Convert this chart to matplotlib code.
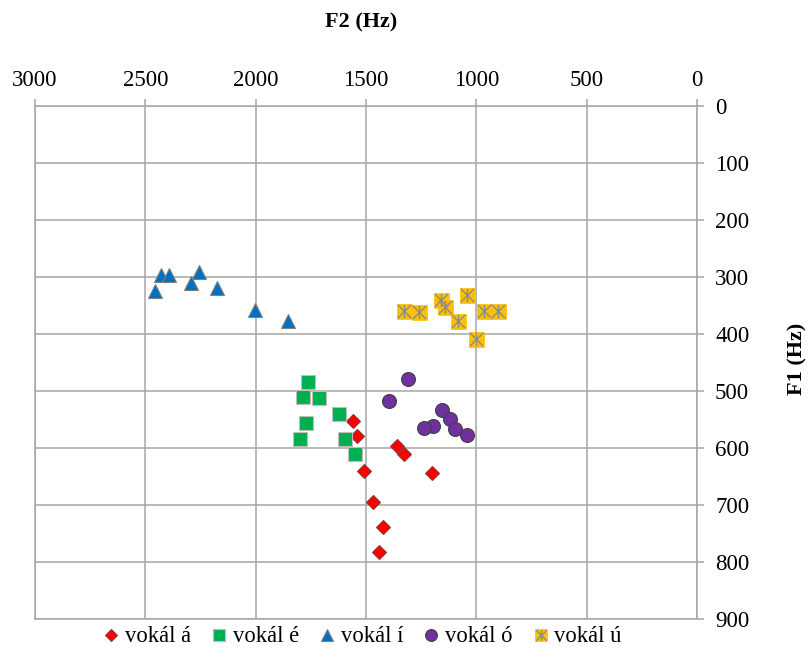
import matplotlib
matplotlib.use("Agg")
import matplotlib.pyplot as plt
from matplotlib.path import Path
from matplotlib.lines import Line2D

plt.rcParams['font.family'] = ['Liberation Serif', 'DejaVu Serif']

# vokál á
a_f2 = [1561, 1540, 1361, 1326, 1203, 1511, 1470, 1424, 1439]
a_f1 = [552, 579, 596, 611, 644, 640, 695, 738, 783]
# vokál é
e_f2 = [1761, 1785, 1712, 1622, 1772, 1797, 1596, 1552]
e_f1 = [484, 511, 513, 541, 556, 585, 584, 610]
# vokál í
i_f2 = [2455, 2429, 2391, 2292, 2255, 2176, 2005, 1855]
i_f1 = [325, 297, 296, 311, 291, 320, 358, 377]
# vokál ó
o_f2 = [1308, 1395, 1156, 1120, 1195, 1239, 1096, 1041]
o_f1 = [479, 518, 534, 549, 562, 565, 566, 578]
# vokál ú
u_f2 = [1326, 1258, 1162, 1144, 1084, 1044, 963, 901, 1003]
u_f1 = [359, 361, 341, 353, 378, 332, 359, 359, 409]

labels = ['vokál á', 'vokál é', 'vokál í', 'vokál ó', 'vokál ú']
x_ticks = [3000, 2500, 2000, 1500, 1000, 500, 0]
y_ticks = [0, 100, 200, 300, 400, 500, 600, 700, 800, 900]

fig = plt.figure(figsize=(8.11, 6.51), dpi=100)
ax = fig.add_axes([35/811, 1-619/651, (697-35)/811, (619-106)/651])

grid_c = '#A6A6A6'
ax.set_xlim(3000, 0)
ax.set_ylim(900, 0)
ax.set_xticks(x_ticks)
ax.set_yticks(y_ticks)
ax.grid(True, color=grid_c, linewidth=1.1)
ax.set_axisbelow(True)
for s in ax.spines.values():
    s.set_color(grid_c)
    s.set_linewidth(1.1)
ax.xaxis.tick_top()
ax.yaxis.tick_right()
ax.tick_params(axis='x', direction='out', length=5, width=1.1, color=grid_c,
               pad=6, labelsize=16.5)
ax.tick_params(axis='y', direction='out', length=5, width=1.1, color=grid_c,
               pad=8, labelsize=16.5)

h_a, = ax.plot(a_f2, a_f1, linestyle='none', marker='D', markersize=6.8,
               markerfacecolor='#FF0000', markeredgecolor='#8C3A3A', markeredgewidth=0.8)
h_e, = ax.plot(e_f2, e_f1, linestyle='none', marker='s', markersize=9.4,
               markerfacecolor='#00B050', markeredgecolor='#BFBFBF', markeredgewidth=0.8)
h_i, = ax.plot(i_f2, i_f1, linestyle='none', marker='^', markersize=10.5,
               markerfacecolor='#0070C0', markeredgecolor='#808080', markeredgewidth=0.8)
h_o, = ax.plot(o_f2, o_f1, linestyle='none', marker='o', markersize=10,
               markerfacecolor='#7030A0', markeredgecolor='#404040', markeredgewidth=0.8)

star_path = Path([(-1, -1), (1, 1), (-1, 1), (1, -1), (0, -1), (0, 1)],
                 [Path.MOVETO, Path.LINETO, Path.MOVETO, Path.LINETO, Path.MOVETO, Path.LINETO])
h_u1, = ax.plot(u_f2, u_f1, linestyle='none', marker='s', markersize=10.8,
                markerfacecolor='#FFC000', markeredgecolor='#FFC000', markeredgewidth=0.5)
h_u2, = ax.plot(u_f2, u_f1, linestyle='none', marker=star_path, markersize=9.5,
                markerfacecolor='none', markeredgecolor='#8C8C8C', markeredgewidth=1.0)

fig.text(361.5/811, 1-22/651, 'F2 (Hz)', ha='center', va='center',
         fontsize=16, fontweight='bold')
fig.text(797/811, 1-359/651, 'F1 (Hz)', ha='center', va='center',
         fontsize=16, fontweight='bold', rotation=90)

def small(h, ms):
    l = Line2D([], [], linestyle='none', marker=h.get_marker(), markersize=ms,
               markerfacecolor=h.get_markerfacecolor(), markeredgecolor=h.get_markeredgecolor(),
               markeredgewidth=h.get_markeredgewidth())
    return l

handles = [small(h_a, 6.3), small(h_e, 8), small(h_i, 9), small(h_o, 8.5),
           (small(h_u1, 8.5), small(h_u2, 7.5))]
fig.legend(handles, labels, loc='center', bbox_to_anchor=(363/811, 1-637/651),
           ncol=5, frameon=False, fontsize=16.3, handlelength=0.6, handletextpad=0.3,
           columnspacing=0.95, borderaxespad=0, borderpad=0)

fig.savefig('out.png', dpi=100)
